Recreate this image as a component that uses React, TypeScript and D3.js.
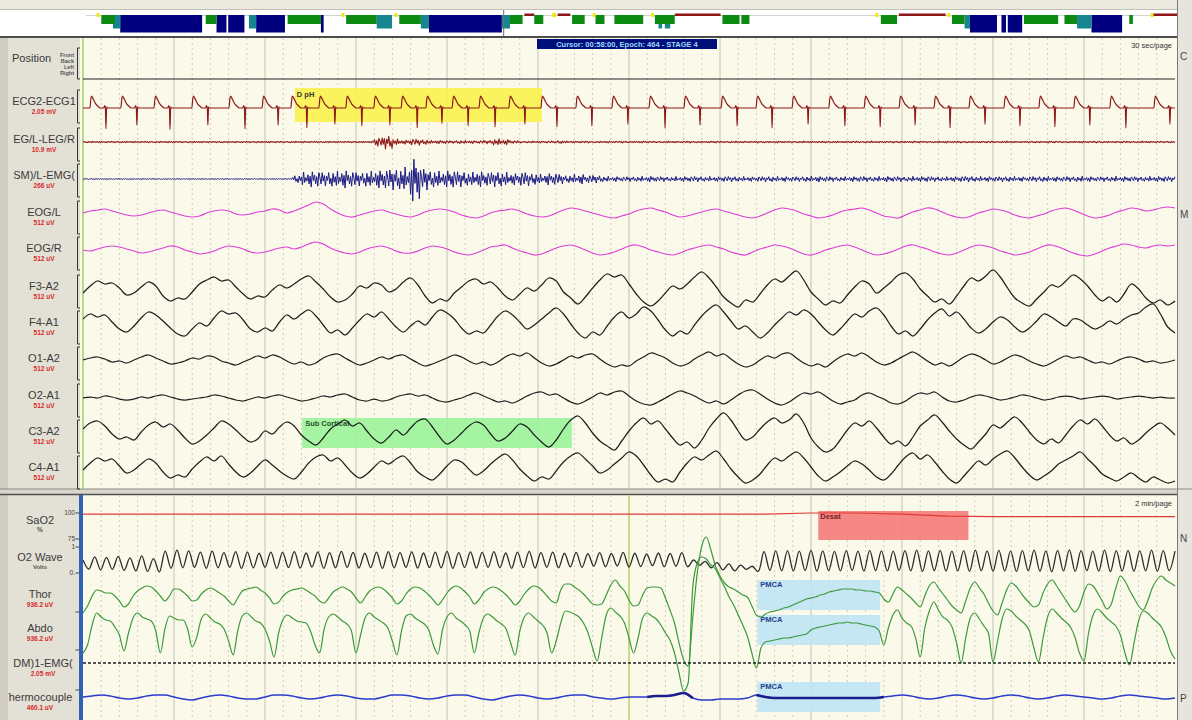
import React from "react";
import * as d3 from "d3";

// ---------- page geometry ----------
const W = 1192;
const H = 720;
const PLOT_L = 83;
const PLOT_R = 1175;
const TOP_Y0 = 37;
const TOP_Y1 = 489;
const BOT_Y0 = 495;
const FONT = "'Liberation Sans', Arial, Helvetica, sans-serif";

// ---------- hypnogram: [start epoch, end epoch, stage] ----------
const hypnoEpochCount = 1212;
const cursorEpoch = 464;
const hypnoSegments: [number, number, string][] = [
  [12, 15, "W"], [17, 32, "2"], [30, 38, "3"], [38, 129, "4"], [133, 145, "2"], [145, 156, "4"],
  [158, 176, "4"], [181, 189, "3"], [189, 221, "4"], [224, 261, "2"], [261, 264, "4"], [284, 287, "W"],
  [289, 323, "2"], [323, 340, "3"], [343, 346, "W"], [348, 372, "2"], [372, 381, "3"], [381, 462, "4"],
  [462, 471, "3"], [471, 485, "2"], [487, 498, "R"], [498, 508, "2"], [518, 522, "W"], [524, 538, "R"],
  [540, 554, "2"], [563, 566, "W"], [566, 576, "2"], [587, 619, "2"], [628, 631, "W"], [632, 654, "2"],
  [636, 640, "3"], [643, 649, "3"], [654, 705, "R"], [707, 726, "2"], [728, 737, "2"], [877, 880, "W"],
  [883, 901, "2"], [903, 955, "R"], [957, 960, "W"], [962, 976, "2"], [976, 982, "3"], [982, 1012, "4"],
  [1017, 1022, "4"], [1024, 1040, "4"], [1042, 1080, "2"], [1087, 1101, "2"], [1101, 1117, "3"],
  [1117, 1151, "4"], [1159, 1163, "2"], [1183, 1186, "W"], [1186, 1212, "R"],
];

// ---------- 30 s page ----------
const TOP_SECONDS = 30;

// ECG: R-spike times (s), spike depth per beat (mV) and one beat template
const ecgBeatTimes = [
  0.63, 1.48, 2.39, 3.43, 4.45, 5.36, 6.15, 6.92, 7.66, 8.43, 9.18, 9.86, 10.58, 11.32, 12.14, 13.02,
  13.98, 14.97, 15.99, 16.95, 17.97, 18.93, 19.92, 20.93, 21.9, 22.86, 23.82, 24.78, 25.74, 26.7,
  27.66, 28.65, 29.86,
];
const ecgSpikeMv = [
  1.15, 0.95, 1.2, 0.95, 1.15, 0.95, 1.1, 0.9, 1.0, 0.95, 1.1, 0.85, 1.0, 1.05, 0.9, 1.05, 1.0, 0.9,
  1.1, 0.95, 1.0, 1.1, 0.9, 1.0, 1.05, 0.95, 1.1, 0.9, 1.0, 1.05, 0.95, 1.1, 0.9,
];
const ecgTemplateDt = [-0.44, -0.415, -0.395, -0.36, -0.32, -0.27, -0.21, -0.15, -0.06, -0.035, -0.015, 0, 0.02, 0.045];
const ecgTemplateMv = [0, 0.5, 0.66, 0.55, 0.38, 0.2, 0.08, 0, 0, 0.14, 0.02, -1, 0.06, 0];

// EMG envelopes, one value per 0.25 s
const legEnvelope = [
  0.7, 0.7, 0.7, 0.7, 0.7, 0.7, 0.7, 0.7, 0.7, 0.7, 0.7, 0.7, 0.7, 0.7, 0.7, 0.7, 0.7, 0.7, 0.7, 0.7,
  0.7, 0.7, 0.7, 0.7, 0.7, 0.7, 0.7, 0.7, 0.7, 0.7, 0.7, 0.7, 4.5, 7, 3, 2, 3, 2.5, 1.6, 1.5,
  1.3, 1.6, 1.4, 1.3, 1.7, 3.2, 2.6, 1.3, 0.8, 0.9, 0.8, 1.0, 1.5, 0.9, 0.8, 0.8, 0.7, 0.8, 0.7, 0.8,
  0.7, 0.8, 0.7, 0.7, 0.8, 0.7, 0.8, 0.7, 0.7, 0.8, 0.7, 0.8, 0.7, 0.7, 0.8, 0.7, 0.8, 0.7, 0.7, 0.8,
  0.7, 0.8, 0.7, 0.7, 0.8, 0.7, 0.8, 0.7, 0.7, 0.8, 0.7, 0.8, 0.7, 0.7, 0.8, 0.7, 0.8, 0.7, 0.7, 0.8,
  0.7, 0.8, 0.7, 0.7, 0.8, 0.7, 0.8, 0.7, 0.7, 0.8, 0.7, 0.8, 0.7, 0.7, 0.8, 0.7, 0.8, 0.7, 0.7, 0.8,
  0.7,
];
const chinEnvelope = [
  0.5, 0.5, 0.5, 0.5, 0.5, 0.5, 0.5, 0.5, 0.5, 0.5, 0.5, 0.5, 0.5, 0.5, 0.5, 0.5, 0.5, 0.5, 0.5, 0.5,
  0.5, 0.5, 0.5, 4, 7, 8, 7, 8, 9, 8, 7, 8, 9, 10, 11, 12, 22, 11, 9, 8,
  9, 8, 7, 8, 7, 8, 7, 6, 7, 6, 5, 6, 5, 4, 5, 4, 4, 2.8, 2.6, 2.5,
  2.6, 2.8, 3, 2.6, 2.4, 2.6, 2.7, 2.9, 2.6, 2.5, 2.7, 2.8, 2.6, 2.4, 2.6, 2.9, 2.7, 2.6, 2.5, 2.8,
  3, 2.7, 2.6, 2.4, 2.6, 2.8, 2.6, 2.7, 2.9, 2.6, 2.5, 2.7, 2.8, 2.6, 2.4, 2.6, 2.8, 3, 2.7, 2.6,
  2.5, 2.8, 2.6, 2.4, 2.7, 2.9, 2.6, 2.5, 2.7, 2.8, 2.6, 2.4, 2.6, 2.8, 2.7, 2.6, 2.5, 2.7, 2.8, 2.6,
  2.7,
];
const emgTexture = [
  0.2, -0.7, 0.9, -0.3, 0.5, -1, 0.4, -0.2, 0.8, -0.6, 0.1, -0.9, 0.7, -0.4, 0.3, -0.8, 1, -0.5,
  0.2, -0.3, 0.6, -0.7, 0.4, -1, 0.9, -0.2, 0.5, -0.6, 0.3, -0.9, 0.8,
];

// EOG / EEG deflections, one sample per 0.2 s (positive = upward)
const eogL = [
  0, 2, 3, 4, 2, 0, -2, -3, -2, 0, 2, 3, 1, -1, -3, -4, -3, 0, 2, 3,
  2, -1, -2, -1, 1, 2, 4, 3, 0, 2, 5, 8, 11, 9, 4, 0, -3, -4, -2, 0,
  2, 3, 1, -1, -3, -4, -2, 1, 3, 4, 3, 1, -2, -4, -5, -3, 0, 2, 3, 4,
  2, -1, -3, -4, -3, 0, 3, 5, 4, 2, 0, -2, -4, -5, -3, -1, 2, 4, 5, 3,
  1, -2, -4, -3, -1, 1, 3, 4, 2, 0, -2, -4, -5, -3, 0, 3, 5, 4, 2, -1,
  -3, -5, -4, -2, 1, 3, 4, 5, 3, 0, -3, -4, -5, -2, 1, 3, 5, 4, 1, -2,
  -4, -5, -3, 0, 2, 4, 3, 1, -2, -4, -5, -3, -1, 2, 4, 5, 3, 0, -3, -5,
  -4, -2, 1, 3, 5, 4, 2, 3, 5, 6, 5,
];
const eogR = [
  0, -1, 1, 3, 4, 3, 1, -1, -3, -2, 0, 2, 4, 3, 0, -2, -4, -3, -1, 2,
  4, 3, 1, -2, -3, -2, 0, 2, 3, 1, 3, 6, 8, 6, 2, -1, -3, -4, -2, 1,
  3, 4, 2, -1, -3, -3, -1, 2, 4, 3, 1, -2, -4, -5, -3, 0, 3, 4, 5, 2,
  -1, -3, -5, -4, -1, 2, 4, 5, 3, 0, -3, -5, -4, -2, 1, 4, 5, 3, 0, -2,
  -4, -5, -3, 0, 2, 4, 5, 3, 1, -2, -4, -5, -2, 1, 3, 5, 4, 2, -1, -4,
  -5, -3, 0, 2, 4, 5, 3, 0, -3, -5, -4, -2, 1, 4, 5, 3, 1, -2, -4, -5,
  -3, 0, 3, 5, 4, 2, -1, -3, -5, -4, -2, 1, 4, 5, 3, 0, -3, -5, -6, -4,
  -1, 2, 4, 6, 5, 3, 2, 4, 5, 4, 5,
];
const f3a2 = [
  -3, 4, 9, 6, 7, 2, -5, -3, 3, 8, 4, -6, -11, -8, -9, -2, 6, 10, 13, 9,
  10, 3, -4, -9, -6, -7, 0, 5, 2, 6, 11, 14, 8, 1, -7, -12, -10, -4, 4, 2,
  7, 5, -2, 1, 8, 12, 5, -6, -13, -9, -11, -3, 3, 9, 11, 6, 8, 2, -6, -10,
  -4, 2, -1, 5, 12, 9, -2, -8, -14, -7, 2, 10, 16, 13, 15, 6, -4, -12, -16, -11,
  -3, 4, 1, 6, 13, 18, 12, 3, -7, -13, -17, -10, -12, -4, 5, 11, 8, 14, 19, 10,
  -2, -9, -15, -11, -13, -5, 3, 9, 6, -3, 2, 8, 15, 17, 11, 1, -6, -12, -9, -14,
  -6, 4, 12, 9, 14, 20, 13, 2, -8, -13, -16, -9, -2, 5, 3, 9, 15, 11, 4, -5,
  -11, -7, -12, -4, 6, 1, -8, -13, -10, -15, -11,
];
const f4a1 = [
  4, 9, 6, 8, 1, -6, -9, -3, 5, 11, 8, 2, -5, -11, -13, -6, 0, -3, 5, 12,
  9, 10, 3, -6, -9, -5, -8, 1, 8, 4, 9, 13, 7, -2, -10, -7, -12, -5, 3, 9,
  6, 11, 4, -4, -9, -3, 2, -2, 6, 13, 10, 4, -5, -11, -8, -10, -2, 7, 12, 8,
  1, -6, -2, 4, 10, 15, 9, -1, -10, -15, -9, -12, -3, 6, 11, 5, 9, 16, 12, 3,
  -7, -13, -8, -11, -2, 7, 14, 18, 11, 2, -6, -3, -9, -15, -10, -2, 5, 11, 8, 13,
  9, 1, -7, -12, -6, 2, 9, 6, 12, 15, 8, -3, -11, -8, -13, -6, 3, 10, 14, 7,
  11, 4, -5, -10, -6, 1, 6, 3, -4, -9, -5, 2, 9, 6, 1, -3, 4, 3, -2, -6,
  -3, 2, -1, 4, 8, 10, 16, 19, 9, -4, -10,
];
const o1a2 = [
  0, 2, 3, 1, -2, -1, -3, 0, 3, 5, 2, -1, -4, -3, -1, 2, 1, 4, 3, -1,
  -3, -5, -2, 1, 4, 2, 5, 3, -1, -4, -2, -5, -3, 2, 5, 6, 2, -2, -5, -3,
  0, 3, 1, 4, 5, 1, -3, -6, -4, -1, 2, 5, 3, -1, -4, -2, -5, -2, 3, 6,
  4, 7, 2, -3, -6, -4, 0, 4, 2, 5, 6, 1, -4, -7, -5, -6, -1, 3, 7, 5,
  2, -3, -6, -4, 1, 5, 8, 4, 6, 1, -4, -7, -5, 0, 4, 2, 6, 7, 2, -3,
  -6, -4, -7, -2, 3, 6, 4, 7, 3, -2, -5, -3, 1, 5, 8, 4, -1, -5, -3, -6,
  -2, 3, 6, 4, 0, -4, -2, 2, 5, 3, -1, -4, -6, -3, 1, 4, 2, 3, 0, -3,
  -2, -4, -1, 2, 3, 1, -2, -1, -3, -2, 0,
];
const o2a1 = [
  0, 1, 0, 2, 1, -1, -2, -1, 1, 0, 2, 3, 1, -1, -2, -1, 0, 1, 3, 2,
  0, -2, -3, -1, 1, 0, 2, 3, 1, -1, -3, -2, 0, 2, 1, 3, 4, 1, -2, -3,
  -1, -3, -2, 1, 3, 4, 2, 3, 0, -3, -4, -2, 0, 3, 5, 2, -1, -4, -3, -5,
  -2, 2, 5, 6, 3, 4, 0, -4, -6, -3, 1, 5, 3, 6, 7, 2, -3, -6, -7, -4,
  0, 4, 7, 5, 2, -2, -5, -3, -6, -2, 3, 7, 8, 4, -1, -5, -7, -4, 1, 5,
  4, 6, 2, -3, -6, -4, -2, 3, 5, 2, -1, -5, -6, -3, 2, 5, 4, 6, 1, -3,
  -4, -2, 1, 3, 2, 0, -2, -1, 1, 3, 2, 0, -2, -1, 1, 2, 1, -1, 0, 1,
  2, 1, -1, 0, 1, 2, 1, 0, 1, 0, 0,
];
const c3a2 = [
  3, 9, 11, 6, -2, -7, -5, -8, 0, 7, 10, 5, 8, 2, -6, -12, -9, -3, 4, 11,
  8, 2, -5, -10, -7, 1, -2, 5, 10, 6, -3, -9, -13, -6, 3, 8, 12, 6, 9, 1,
  -7, -11, -5, 2, -3, 4, 11, 13, 5, -5, -12, -8, -1, 6, 10, 7, -2, -9, -6, 1,
  8, 5, -3, -10, -15, -8, 3, 12, 16, 9, -1, -9, -14, -18, -9, 1, 9, 14, 8, 11,
  3, -6, -13, -10, -16, -8, 4, 13, 19, 12, 1, -8, -5, 3, 10, 14, 9, 12, 18, 9,
  -6, -15, -20, -17, -8, 2, 9, 6, 11, 4, -5, -12, -9, -14, -5, 6, 12, 17, 10, 1,
  -7, -13, -17, -10, -2, 7, 4, 10, 15, 9, 0, -8, -12, -7, -11, -3, 6, 12, 8, 13,
  6, -3, -9, -6, -12, -8, -1, 5, 9, 4, -3,
];
const c4a1 = [
  -2, 5, 10, 7, 9, 2, -5, -2, 4, 9, 5, -4, -10, -7, -9, -1, 6, 11, 7, 12,
  4, -4, -9, -5, 2, 8, 3, -3, -8, -11, -4, 5, 11, 13, 7, 10, 3, -5, -10, -6,
  1, 7, 4, 9, 12, 5, -4, -9, -12, -6, 2, 8, 6, -1, -7, -3, 4, 10, 14, 8,
  -1, -8, -13, -9, -11, -3, 6, 12, 15, 9, 2, -5, -2, 4, 10, 16, 12, 3, -7, -14,
  -11, -14, -4, 5, 11, 8, 13, 17, 9, -1, -9, -15, -12, -6, 3, 10, 7, 12, 16, 10,
  1, -8, -13, -9, -4, 2, 7, 4, -2, -9, -12, -6, 3, 11, 15, 9, 13, 6, -3, -11,
  -15, -8, 0, 7, 3, 9, 14, 17, 10, 1, -7, -12, -8, -3, 4, 8, 12, 16, 9, 2,
  -6, -10, -13, -9, -5, -10, -14, -9, -12, -15, -13,
];

// scored events on the 30 s page (seconds)
const topEvents = [
  { label: "D pH", start: 5.82, end: 12.61 },
  { label: "Sub Cortical", start: 6.02, end: 13.43 },
];

// ---------- 2 min page ----------
const BOT_SECONDS = 120;
const cursorSecond = 60;

// SaO2 (%), one value per 5 s
const sao2 = [99, 99, 99, 99, 99, 99, 99, 99, 99, 99, 99, 99, 99, 99, 99, 99, 100, 100, 99, 97, 96.5, 96.5, 96.5, 96.5, 96.5];

// O2 wave (hundredths of a volt), alternating peaks and troughs
const o2Wave = [
  50, 15, 62, 12, 60, 14, 64, 10, 58, 8, 66, 6, 55, 4, 84, 18, 88, 20, 85, 22,
  80, 18, 84, 20, 78, 22, 82, 18, 80, 20, 76, 22, 80, 18, 79, 21, 82, 19, 77, 23,
  81, 18, 78, 20, 83, 22, 79, 19, 76, 21, 80, 18, 82, 20, 78, 22, 81, 19, 77, 21,
  80, 20, 83, 18, 78, 21, 81, 19, 79, 22, 82, 20, 77, 18, 80, 21, 83, 19, 78, 22,
  80, 20, 76, 24, 79, 22, 74, 26, 78, 24, 75, 27, 79, 23, 76, 25, 73, 28, 77, 24,
  75, 26, 78, 24, 50, 30, 45, 20, 40, 12, 35, 8, 30, 14, 26, 6, 82, 10, 85, 8,
  86, 8, 84, 10, 87, 7, 85, 9, 83, 8, 86, 10, 84, 7, 87, 9, 85, 8, 84, 10,
  86, 8, 88, 6, 85, 9, 87, 7, 84, 8, 86, 6, 88, 9, 85, 7, 87, 8, 84, 6,
  86, 9, 88, 7, 85, 5, 87, 8, 89, 6, 86, 9, 84, 7, 88, 5, 86, 8, 87, 6,
  85, 8, 88, 6, 86, 9, 84,
];

// thoracic / abdominal effort, one sample per 0.5 s
const thor = [
  -15, -8, 2, 8, 7, 5, 5, 2, -3, -9, -6, 2, 7, 10, 12, 11, 7, 2, -3, 2,
  9, 9, 6, 2, -3, -2, 4, 8, 10, 8, 5, 2, -3, -7, 0, 7, 9, 10, 11, 8,
  5, 0, -6, -4, 2, 6, 8, 9, 10, 8, 5, 2, -3, -5, 0, 6, 9, 11, 9, 6,
  0, -5, 1, 7, 10, 11, 9, 5, 0, -6, -3, 4, 9, 11, 10, 7, 3, -2, -7, -2,
  5, 10, 12, 10, 6, 1, -6, -2, 5, 9, 11, 10, 7, 3, -2, -7, -3, 4, 9, 12,
  11, 7, 2, -3, -5, 8, 14, 14, 11, 8, 4, -1, -6, -7, -6, 3, 13, 18, 12, 7,
  -2, -8, -7, 3, 10, 11, 11, 10, 0, -12, -25, -45, -62, -68, -20, 25, 52, 61, 48, 32,
  22, 15, 11, 9, 6, 3, 1, -8, -17, -19, -16, -14, -13, -12, -10, -9, -7, -5, -3, -1,
  0, 1, 3, 4, 6, 7, 8, 9, 9, 9, 8, 8, 7, 7, 6, 5, -1, -4, 4, 11,
  8, 4, 0, -5, -9, 2, 12, 16, 10, 4, -2, -8, -12, -15, -3, 10, 16, 10, 4, -5,
  -13, -17, -5, 8, 15, 12, 6, 0, -5, -9, -7, 5, 14, 18, 12, 5, -2, -9, -14, -8,
  6, 14, 12, 5, -3, -11, -6, 10, 22, 17, 8, 0, -8, -12, -3, 10, 18, 22, 18, 15,
  12,
];
const abdo = [
  -20, -12, 8, 20, 16, 13, 12, 6, -2, -18, 0, 15, 20, 16, 14, 12, 2, -20, 4, 17,
  15, 13, 13, 4, -14, -4, 14, 19, 15, 11, 9, 4, -8, -22, 2, 17, 20, 16, 12, 10,
  4, -8, -24, 0, 14, 18, 15, 12, 11, 10, 2, -12, -20, 4, 16, 19, 16, 12, 9, 2,
  -20, -2, 15, 20, 16, 13, 10, 5, -8, -22, 2, 17, 19, 15, 12, 9, 3, -12, -21, 3,
  16, 20, 15, 12, 8, 2, -20, 0, 15, 19, 16, 12, 9, 4, -10, -22, 2, 16, 20, 16,
  12, 8, 0, -20, -8, 10, 22, 21, 19, 16, 10, 0, -15, -28, -5, 18, 25, 21, 17, 10,
  -5, -20, -5, 15, 20, 17, 14, 8, 0, -7, -20, -40, -58, -50, 45, 70, 76, 74, 68, 64,
  55, 46, 36, 28, 18, 8, -3, -20, -35, -15, -9, -8, -7, -6, -5, -5, -4, -3, -2, -1,
  3, 5, 6, 7, 8, 9, 10, 10, 11, 10, 10, 9, 8, 7, 6, 2, -12, 5, 18, 23,
  15, 10, 7, -5, -24, 5, 22, 31, 23, 16, 13, 6, -10, -30, -5, 15, 20, 14, 7, 0,
  -29, -8, 14, 24, 22, 17, 13, 9, 2, -15, -29, -5, 16, 24, 20, 15, 11, 6, -4, -20,
  -28, 0, 18, 24, 20, 15, 11, 7, -2, -20, -32, -10, 12, 22, 20, 15, 11, 6, -4, -18,
  -26,
];

// thermocouple airflow, one sample per second
const thermo = [
  0, 1, 2, 1, -1, -2, -1, 1, 2, 2, 0, -2, -3, -1, 1, 2, 1, -1, -2, -2,
  0, 2, 2, 1, -1, -2, -1, 1, 2, 1, -1, -2, -2, 0, 2, 2, 1, -1, -2, -1,
  1, 2, 2, 0, -2, -3, -1, 1, 2, 1, -1, -2, -1, 1, 2, 2, 0, -1, -2, -1,
  0, 0, 0, 1, 1, 2, 4, -1, -3, -3, -2, -2, -2, -1, 2, 0, -1, -1, -1, -1,
  -1, -1, -1, -1, -1, -1, -1, -1, 0, 1, 2, 1, -1, -2, -1, 1, 2, 1, -1, -2,
  -1, 1, 2, 1, -1, -2, -1, 1, 2, 1, 0, -1, -2, -1, 1, 2, 1, 0, -1, -2,
  -1,
];
const thermoBoldSpans: [number, number][] = [[62, 67], [74, 88]];

// scored events on the 2 min page (seconds)
const desatEvent = { label: "Desat", start: 80.8, end: 97.3 };
const pmcaEvent = { label: "PMCA", start: 74.1, end: 87.6 };

// ---------- helpers ----------
type Scale = d3.ScaleLinear<number, number>;

function sampledPath(values: number[], x: Scale, span: number, y: Scale, curve: d3.CurveFactory) {
  const dt = span / (values.length - 1);
  return (
    d3
      .line<number>()
      .x((_, i) => x(i * dt))
      .y((v) => y(v))
      .curve(curve)(values) ?? ""
  );
}

function emgPath(env: number[], offset: number, x: Scale, y: Scale) {
  const step = 0.03;
  const n = Math.round(TOP_SECONDS / step);
  const envStep = TOP_SECONDS / (env.length - 1);
  const pts: [number, number][] = [];
  for (let k = 0; k <= n; k++) {
    const t = k * step;
    const a = env[Math.min(env.length - 1, Math.floor(t / envStep))];
    pts.push([x(t), y(a * emgTexture[(k + offset) % emgTexture.length])]);
  }
  return d3.line()(pts) ?? "";
}

// ---------- channel layout ----------
const topLabels = [
  { name: "ECG2-ECG1", unit: "2.05 mV", lc: 101 },
  { name: "EG/L-LEG/R", unit: "10.9 mV", lc: 139 },
  { name: "SM)/L-EMG(", unit: "266 uV", lc: 175 },
  { name: "EOG/L", unit: "512 uV", lc: 212 },
  { name: "EOG/R", unit: "512 uV", lc: 248 },
  { name: "F3-A2", unit: "512 uV", lc: 286 },
  { name: "F4-A1", unit: "512 uV", lc: 322 },
  { name: "O1-A2", unit: "512 uV", lc: 358 },
  { name: "O2-A1", unit: "512 uV", lc: 395 },
  { name: "C3-A2", unit: "512 uV", lc: 431 },
  { name: "C4-A1", unit: "512 uV", lc: 467 },
];

const center = { pos: 79, ecg: 108, leg: 142, chin: 179, eogL: 213, eogR: 250, f3: 290, f4: 323, o1: 360, o2: 398, c3: 432, c4: 468 };

const eogTraces = [
  { values: eogL, c: center.eogL },
  { values: eogR, c: center.eogR },
];
const eegTraces = [
  { values: f3a2, c: center.f3 },
  { values: f4a1, c: center.f4 },
  { values: o1a2, c: center.o1 },
  { values: o2a1, c: center.o2 },
  { values: c3a2, c: center.c3 },
  { values: c4a1, c: center.c4 },
];

const stageStyle: Record<string, { color: string; y0: number; y1: number }> = {
  W: { color: "#f4e400", y0: 13, y1: 17 },
  R: { color: "#8e1616", y0: 13.5, y1: 16 },
  "2": { color: "#0c8a12", y0: 15, y1: 24 },
  "3": { color: "#17858f", y0: 15, y1: 28.5 },
  "4": { color: "#00007e", y0: 15, y1: 32.5 },
};

export default function App() {
  const xTop = d3.scaleLinear().domain([0, TOP_SECONDS]).range([PLOT_L, PLOT_R]);
  const xBot = d3.scaleLinear().domain([0, BOT_SECONDS]).range([PLOT_L, PLOT_R]);
  const xHyp = d3.scaleLinear().domain([0, hypnoEpochCount]).range([86, 1177]);
  const px = (c: number) => d3.scaleLinear().domain([-20, 20]).range([c + 20, c - 20]);

  // ECG trace from beat list + template
  const ecgY = d3.scaleLinear().domain([-1, 1]).range([center.ecg + 18, center.ecg - 18]);
  const ecgPts: [number, number][] = [[0, 0]];
  ecgBeatTimes.forEach((tb, b) => {
    ecgTemplateDt.forEach((dt, k) => {
      const v = ecgTemplateMv[k];
      const t = tb + dt;
      if (t >= 0 && t <= TOP_SECONDS) ecgPts.push([t, v < 0 ? v * ecgSpikeMv[b] : v]);
    });
  });
  ecgPts.push([TOP_SECONDS, 0]);
  const ecgPath =
    d3
      .line<[number, number]>()
      .x((d) => xTop(d[0]))
      .y((d) => ecgY(d[1]))
      .curve(d3.curveMonotoneX)(ecgPts) ?? "";

  // 2 min page scales
  const sao2Y = d3.scaleLinear().domain([75, 100]).range([539, 513]);
  const o2Y = d3.scaleLinear().domain([0, 100]).range([573, 547]);
  const thorY = px(598);
  const abdoY = px(633);
  const thermoY = px(697);
  const thermoDt = BOT_SECONDS / (thermo.length - 1);

  const topGrid = d3.range(0.5, TOP_SECONDS, 0.5);
  const isMajor = (t: number) => Math.abs(t / 2.5 - Math.round(t / 2.5)) < 1e-6;

  const gridLines = (y0: number, y1: number) =>
    topGrid.map((t) => (
      <line
        key={`${y0}-${t}`}
        x1={xTop(t)}
        x2={xTop(t)}
        y1={y0}
        y2={y1}
        stroke={isMajor(t) ? "#c4c2b4" : "#cfcdbf"}
        strokeWidth={1}
        strokeDasharray={isMajor(t) ? undefined : "2,3"}
      />
    ));

  const eventBox = (ev: { start: number; end: number }, x: Scale, y0: number, y1: number, fill: string, op = 0.85) => (
    <rect x={x(ev.start)} y={y0} width={x(ev.end) - x(ev.start)} height={y1 - y0} fill={fill} opacity={op} />
  );

  const labelText = (name: string, unit: string, y: number, cx: number) => (
    <g key={name}>
      <text x={cx} y={y + 4} textAnchor="middle" fontSize={11} fill="#3b3b3b">
        {name}
      </text>
      <text x={cx} y={y + 13} textAnchor="middle" fontSize={6.5} fontWeight="bold" fill="#d62a2a">
        {unit}
      </text>
    </g>
  );

  return (
    <>
      <style>{"body{margin:0;background:#ffffff}"}</style>
      <svg width={W} height={H} style={{ display: "block", fontFamily: FONT }}>
        <defs>
          <clipPath id="labelClip">
            <rect x={8} y={0} width={72} height={H} />
          </clipPath>
          <clipPath id="plotTop">
            <rect x={PLOT_L} y={TOP_Y0} width={1177 - PLOT_L} height={TOP_Y1 - TOP_Y0} />
          </clipPath>
          <clipPath id="plotBot">
            <rect x={PLOT_L} y={BOT_Y0} width={1177 - PLOT_L} height={H - BOT_Y0} />
          </clipPath>
        </defs>

        {/* window chrome */}
        <rect x={0} y={0} width={W} height={H} fill="#e9e6dc" />
        <rect x={0} y={0} width={W} height={9} fill="#ece9df" />
        <line x1={0} x2={1177} y1={9.5} y2={9.5} stroke="#c2c0b8" />

        {/* hypnogram strip */}
        <rect x={0} y={10} width={1177} height={26} fill="#ffffff" />
        <line x1={86} x2={1177} y1={15.5} y2={15.5} stroke="#d2d2d2" />
        {hypnoSegments
          .filter((s) => s[2] !== "R" && s[2] !== "W")
          .sort((a, b) => (a[2] < b[2] ? 1 : -1))
          .map((s, i) => {
            const st = stageStyle[s[2]];
            return (
              <rect key={`h${i}`} x={xHyp(s[0])} y={st.y0} width={xHyp(s[1]) - xHyp(s[0])} height={st.y1 - st.y0} fill={st.color} />
            );
          })}
        {hypnoSegments
          .filter((s) => s[2] === "R" || s[2] === "W")
          .map((s, i) => {
            const st = stageStyle[s[2]];
            return (
              <rect key={`hr${i}`} x={xHyp(s[0])} y={st.y0} width={xHyp(s[1]) - xHyp(s[0])} height={st.y1 - st.y0} fill={st.color} />
            );
          })}
        <line x1={xHyp(cursorEpoch)} x2={xHyp(cursorEpoch)} y1={10} y2={36} stroke="#707070" strokeWidth={1} />
        <line x1={0} x2={1177} y1={36.5} y2={36.5} stroke="#4a4a4a" />

        {/* label column */}
        <rect x={0} y={TOP_Y0} width={80} height={H - TOP_Y0} fill="#e3e0d5" />
        <rect x={0} y={TOP_Y0} width={8} height={H - TOP_Y0} fill="#d0ccc1" />

        {/* plot backgrounds */}
        <rect x={80} y={TOP_Y0} width={1177 - 80} height={TOP_Y1 - TOP_Y0} fill="#fbf9ea" />
        <rect x={80} y={BOT_Y0} width={1177 - 80} height={H - BOT_Y0} fill="#fbf9ea" />

        {/* panel separator */}
        <rect x={0} y={TOP_Y1} width={1177} height={BOT_Y0 - TOP_Y1} fill="#d9d6cb" />
        <line x1={0} x2={1177} y1={TOP_Y1} y2={TOP_Y1} stroke="#8c8a82" />
        <line x1={0} x2={1177} y1={BOT_Y0 - 0.5} y2={BOT_Y0 - 0.5} stroke="#505050" strokeWidth={1.5} />
        <line x1={0} x2={1177} y1={TOP_Y0 + 0.5} y2={TOP_Y0 + 0.5} stroke="#505050" />

        {/* grids */}
        {gridLines(TOP_Y0 + 1, TOP_Y1)}
        {gridLines(BOT_Y0, H)}

        {/* scored events, 30 s page */}
        <g clipPath="url(#plotTop)">
          {eventBox(topEvents[0], xTop, center.ecg - 20, center.ecg + 14, "#f9f24e", 0.9)}
          {eventBox(topEvents[1], xTop, center.c3 - 14, center.c3 + 16, "#9af39a", 0.9)}
          <text x={xTop(topEvents[0].start) + 2} y={center.ecg - 11} fontSize={7.5} fill="#333" fontWeight="bold">
            {topEvents[0].label}
          </text>
          <text x={xTop(topEvents[1].start) + 3} y={center.c3 - 6} fontSize={7.5} fill="#2d4f2d" fontWeight="bold">
            {topEvents[1].label}
          </text>
        </g>

        {/* scored events, 2 min page */}
        <g clipPath="url(#plotBot)">
          {eventBox(desatEvent, xBot, sao2Y(100) - 2, sao2Y(75) + 1, "#f47a7a", 0.9)}
          <text x={xBot(desatEvent.start) + 2} y={sao2Y(100) + 6} fontSize={7.5} fontWeight="bold" fill="#7a1c1c">
            {desatEvent.label}
          </text>
          {[thorY(18), abdoY(18), thermoY(15)].map((top, i) => (
            <g key={`pm${i}`}>
              {eventBox(pmcaEvent, xBot, top, top + 30, "#bfe3f4", 0.9)}
              <text x={xBot(pmcaEvent.start) + 3} y={top + 7} fontSize={7.5} fontWeight="bold" fill="#23408c">
                {pmcaEvent.label}
              </text>
            </g>
          ))}
        </g>

        {/* cursor lines */}
        <line x1={PLOT_L} x2={PLOT_L} y1={TOP_Y0 + 1} y2={TOP_Y1} stroke="#86c94a" strokeWidth={1.2} />
        <line x1={xBot(cursorSecond)} x2={xBot(cursorSecond)} y1={BOT_Y0} y2={H} stroke="#b4dc55" strokeWidth={1.2} />
        <rect x={79} y={BOT_Y0} width={4} height={H - BOT_Y0} fill="#2f63b6" />

        {/* traces, 30 s page */}
        <g clipPath="url(#plotTop)" fill="none" strokeLinejoin="round">
          <line x1={PLOT_L} x2={PLOT_R} y1={center.pos} y2={center.pos} stroke="#222" strokeWidth={1} />
          <path d={ecgPath} stroke="#8e1a1a" strokeWidth={1.2} />
          <path d={emgPath(legEnvelope, 7, xTop, px(center.leg))} stroke="#8e1a1a" strokeWidth={1.1} />
          <path d={emgPath(chinEnvelope, 0, xTop, px(center.chin))} stroke="#1b1b86" strokeWidth={1} />
          {eogTraces.map((tr, i) => (
            <path key={`eog${i}`} d={sampledPath(tr.values, xTop, TOP_SECONDS, px(tr.c), d3.curveCatmullRom)} stroke="#dc3fd8" strokeWidth={1.2} />
          ))}
          {eegTraces.map((tr, i) => (
            <path key={`eeg${i}`} d={sampledPath(tr.values, xTop, TOP_SECONDS, px(tr.c), d3.curveCatmullRom.alpha(0.5))} stroke="#1e1e1e" strokeWidth={1.25} />
          ))}
        </g>

        {/* traces, 2 min page */}
        <g clipPath="url(#plotBot)" fill="none" strokeLinejoin="round">
          <path d={sampledPath(sao2, xBot, BOT_SECONDS, sao2Y, d3.curveLinear)} stroke="#e23a3a" strokeWidth={1.2} />
          <path d={sampledPath(o2Wave, xBot, BOT_SECONDS, o2Y, d3.curveCatmullRom)} stroke="#2b2b2b" strokeWidth={1.3} />
          <path d={sampledPath(thor, xBot, BOT_SECONDS, thorY, d3.curveMonotoneX)} stroke="#3c9a3c" strokeWidth={1.2} />
          <path d={sampledPath(abdo, xBot, BOT_SECONDS, abdoY, d3.curveMonotoneX)} stroke="#3c9a3c" strokeWidth={1.2} />
          <line x1={PLOT_L} x2={PLOT_R} y1={663} y2={663} stroke="#1e1e1e" strokeWidth={1.3} strokeDasharray="3,2" />
          <path d={sampledPath(thermo, xBot, BOT_SECONDS, thermoY, d3.curveMonotoneX)} stroke="#2b3ccc" strokeWidth={1.5} />
          {thermoBoldSpans.map(([a, b], i) => {
            const idx = d3.range(Math.round(a / thermoDt), Math.round(b / thermoDt) + 1);
            const d =
              d3
                .line<number>()
                .x((k) => xBot(k * thermoDt))
                .y((k) => thermoY(thermo[k]))
                .curve(d3.curveMonotoneX)(idx) ?? "";
            return <path key={`tb${i}`} d={d} stroke="#1a1f8c" strokeWidth={2.6} />;
          })}
        </g>

        {/* channel labels, 30 s page */}
        <g clipPath="url(#labelClip)">
          <text x={12} y={62} fontSize={11} fill="#3b3b3b">
            Position
          </text>
          {["Front", "Back", "Left", "Right"].map((s, i) => (
            <text key={s} x={74} y={57 + i * 6} textAnchor="end" fontSize={5.5} fontWeight="bold" fill="#555">
              {s}
            </text>
          ))}
          {topLabels.map((l) => labelText(l.name, l.unit, l.lc, 44))}
        </g>
        {/* brackets */}
        <g stroke="#333" strokeWidth={1}>
          <line x1={77.5} x2={77.5} y1={48} y2={79} />
          <line x1={77.5} x2={80} y1={48} y2={48} />
          <line x1={77.5} x2={80} y1={79} y2={79} />
          {topLabels.map((l) => (
            <g key={`br${l.name}`}>
              <line x1={77.5} x2={77.5} y1={l.lc - 11} y2={l.lc + 22} />
              <line x1={77.5} x2={80} y1={l.lc - 11} y2={l.lc - 11} />
              <line x1={77.5} x2={80} y1={l.lc + 22} y2={l.lc + 22} />
            </g>
          ))}
        </g>

        {/* channel labels, 2 min page */}
        <g clipPath="url(#labelClip)">
          <text x={40} y={524} textAnchor="middle" fontSize={11} fill="#3b3b3b">
            SaO2
          </text>
          <text x={40} y={532} textAnchor="middle" fontSize={6.5} fontWeight="bold" fill="#555">
            %
          </text>
          <text x={40} y={561} textAnchor="middle" fontSize={11} fill="#3b3b3b">
            O2 Wave
          </text>
          <text x={40} y={569} textAnchor="middle" fontSize={6} fontWeight="bold" fill="#555">
            Volts
          </text>
          {labelText("Thor", "936.2 uV", 594, 40)}
          {labelText("Abdo", "936.2 uV", 628, 40)}
          {labelText("DM)1-EMG(", "2.05 mV", 663, 43)}
          <text x={2} y={701} fontSize={11} fill="#3b3b3b">
            Thermocouple
          </text>
          <text x={40} y={710} textAnchor="middle" fontSize={6.5} fontWeight="bold" fill="#d62a2a">
            460.1 uV
          </text>
        </g>
        {/* scale marks */}
        <g fontSize={6.5} fill="#444" textAnchor="end">
          <text x={75} y={sao2Y(100) + 2}>100</text>
          <text x={75} y={sao2Y(75) + 2}>75</text>
          <text x={75} y={o2Y(100) + 2}>1</text>
          <text x={75} y={o2Y(0) + 2}>0.</text>
        </g>
        <g stroke="#444">
          {[sao2Y(100), sao2Y(75), o2Y(100), o2Y(0), 612, 650, 690].map((y, i) => (
            <line key={`sm${i}`} x1={75.5} x2={79} y1={y} y2={y} />
          ))}
        </g>

        {/* header */}
        <rect x={537} y={39} width={180} height={10} fill="#00107a" />
        <text x={627} y={47} textAnchor="middle" fontSize={7.5} fontWeight="bold" fill="#9fd8ff">
          Cursor: 00:58:00, Epoch: 464 - STAGE 4
        </text>
        <text x={1172} y={48} textAnchor="end" fontSize={7.5} fill="#333">
          30 sec/page
        </text>
        <text x={1172} y={506} textAnchor="end" fontSize={7.5} fill="#333">
          2 min/page
        </text>

        {/* right-hand pane */}
        <rect x={1177} y={0} width={15} height={H} fill="#e6e4dc" />
        <line x1={1177.5} x2={1177.5} y1={0} y2={H} stroke="#7a7a7a" />
        <line x1={1177} x2={W} y1={TOP_Y1} y2={TOP_Y1} stroke="#8c8a82" />
        <g fontSize={10} fill="#444">
          <text x={1180} y={60}>C</text>
          <text x={1180} y={218}>M</text>
          <text x={1180} y={542}>N</text>
          <text x={1180} y={702}>P</text>
        </g>
      </svg>
    </>
  );
}
